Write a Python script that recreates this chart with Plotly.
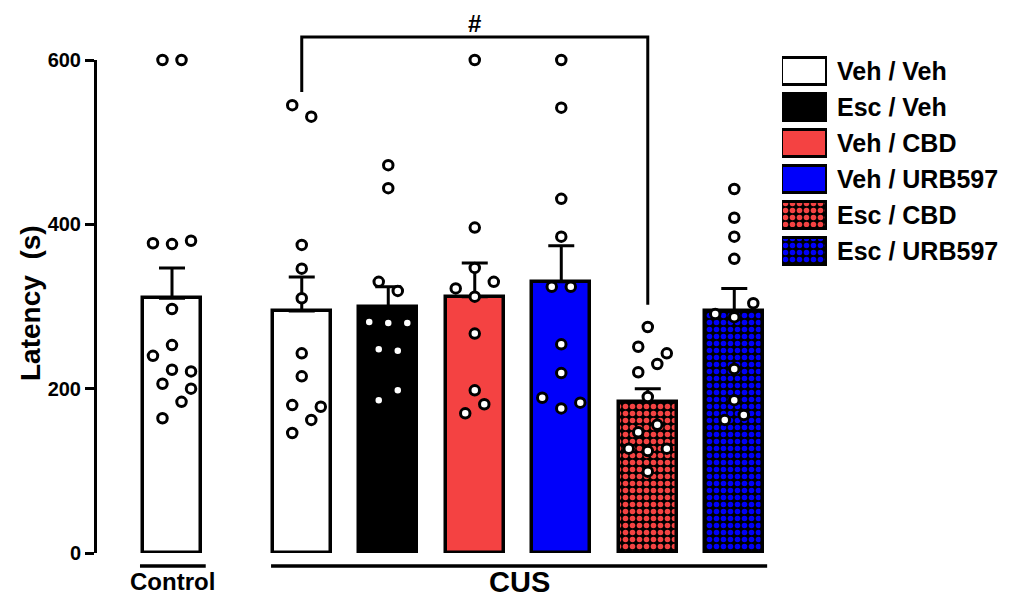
import plotly.graph_objects as go

# ---------------- data ----------------
groups = ["Control", "Veh / Veh", "Esc / Veh", "Veh / CBD", "Veh / URB597", "Esc / CBD", "Esc / URB597"]
means = [310, 294.5, 300, 312, 330, 184, 294.5]
sems = [37, 41.5, 24, 41, 44, 16, 27.5]

pts_control = [600, 600, 377, 376, 380, 297, 253, 240, 223, 221, 206, 200, 184, 164]
pts_veh_veh = [545, 531, 375, 346, 310, 243, 215, 180, 178, 162, 146]
pts_esc_veh = [472, 444, 330, 319, 281, 280, 280, 248, 246, 198, 186]
pts_veh_cbd = [600, 396, 347, 322, 330, 312, 267, 198, 181, 170]
pts_veh_urb = [600, 542, 431, 385, 324, 324, 254, 219, 189, 176, 183]
pts_esc_cbd = [275, 251, 243, 230, 220, 190, 147, 156, 127, 124, 127, 99]
pts_esc_urb = [443, 408, 385, 358, 304, 291, 287, 224, 186, 168, 162]

# horizontal jitter steps of the individual points (in units of one dot step)
jit_control = [-1, 1, -2, 0, 2, 0, 0, -2, 0, 2, -1, 2, 1, -1]
jit_veh_veh = [-1, 1, 0, 0, 0, 0, 0, -1, 2, 1, -1]
jit_esc_veh = [0, 0, -1, 1, -2, 0, 2, -1, 1, 1, -1]
jit_veh_cbd = [0, 0, 0, -2, 2, 0, 0, 0, 1, -1]
jit_veh_urb = [0, 0, 0, 0, -1, 1, 0, 0, -2, 0, 2]
jit_esc_cbd = [0, -1, 2, 1, -1, 0, -1, 1, -2, 0, 2, 0]
jit_esc_urb = [0, 0, 0, 0, 2, -2, 0, 0, 0, 1, -1]

y_ticks = [0, 200, 400, 600]

# ---------------- styling / layout ----------------
RED = "#f44242"
BLUE = "#0000fa"
fills = ["white", "white", "black", RED, BLUE, RED, BLUE]
shapes_pat = ["", "", "", "", "", ".", "."]

XPOS = [0, 1.5, 2.5, 3.5, 4.5, 5.5, 6.5]
STEP = 0.11
BAR_W = 0.67
OFF = 8  # default page body margin
W, H = 1002, 593
ML, MT = 89, 12
PW, PH = 903, 533
MR, MB = W - ML - PW, H - MT - PH
XDOM = [0, 673 / PW]
YDOM = [0, 493 / PH]
FONT = "Liberation Sans, Arial, sans-serif"
Y0_PAGE = OFF + MT + PH  # page pixel row of the value 0


def yp(v):
    return v / 600 * YDOM[1]


def xp(px):  # page pixel column -> paper
    return (px - OFF - ML) / PW


def ypp(py):  # page pixel row -> paper
    return (Y0_PAGE - py) / PH


def marker_style(i, lw):
    if shapes_pat[i]:
        return dict(color="black", line=dict(color="black", width=lw),
                    pattern=dict(shape=shapes_pat[i], fgcolor=fills[i], bgcolor="black",
                                 size=7, solidity=0.5, fillmode="replace"))
    return dict(color=fills[i], line=dict(color="black", width=lw))


fig = go.Figure()

for i, g in enumerate(groups):
    fig.add_trace(go.Bar(
        x=[XPOS[i]], y=[means[i]], width=BAR_W, name=g,
        marker=marker_style(i, 3.5),
        error_y=dict(type="data", symmetric=False, array=[sems[i]], arrayminus=[0],
                     color="black", thickness=3, width=13),
        showlegend=False, hoverinfo="skip",
    ))

all_pts = [pts_control, pts_veh_veh, pts_esc_veh, pts_veh_cbd, pts_veh_urb, pts_esc_cbd, pts_esc_urb]
all_jit = [jit_control, jit_veh_veh, jit_esc_veh, jit_veh_cbd, jit_veh_urb, jit_esc_cbd, jit_esc_urb]
px_, py_ = [], []
for g, (vals, jits) in enumerate(zip(all_pts, all_jit)):
    for v, j in zip(vals, jits):
        px_.append(XPOS[g] + j * STEP)
        py_.append(v)
fig.add_trace(go.Scatter(
    x=px_, y=py_, mode="markers", cliponaxis=False,
    marker=dict(size=9.5, color="white", line=dict(color="black", width=3)),
    showlegend=False, hoverinfo="skip",
))

# legend drawn as an inset of horizontal bars
leg_names = groups[1:]
for k, name in enumerate(leg_names):
    i = k + 1
    fig.add_trace(go.Bar(
        x=[1], y=[name], orientation="h", width=0.75,
        xaxis="x2", yaxis="y2", marker=marker_style(i, 3),
        showlegend=False, hoverinfo="skip",
    ))

annotations = []
for name in leg_names:
    annotations.append(dict(x=xp(835), y=name, xref="paper", yref="y2", text=name,
                            xanchor="left", yanchor="middle", showarrow=False,
                            font=dict(family=FONT, size=25, color="black", weight="bold")))

annotations += [
    dict(x=xp(30), y=ypp(303), xref="paper", yref="paper", text="Latency\u00a0 (s)",
         textangle=-90, showarrow=False, xanchor="center", yanchor="middle",
         font=dict(family=FONT, size=28, color="black", weight="bold")),
    dict(x=XPOS[0], y=ypp(581), xref="x", yref="paper", text="Control",
         showarrow=False, xanchor="center", yanchor="middle",
         font=dict(family=FONT, size=24, color="black", weight="bold")),
    dict(x=(XPOS[1] - 0.355 + XPOS[6] + 0.38) / 2, y=ypp(582), xref="x", yref="paper",
         text="CUS", showarrow=False, xanchor="center", yanchor="middle",
         font=dict(family=FONT, size=29, color="black", weight="bold")),
    dict(x=(XPOS[1] + XPOS[5]) / 2, y=ypp(23), xref="x", yref="paper", text="#",
         showarrow=False, xanchor="center", yanchor="middle",
         font=dict(family=FONT, size=24, color="black", weight="bold")),
]

shapes = [
    # significance bracket
    dict(type="path", xref="x", yref="paper",
         path=f"M {XPOS[1]} {yp(561)} L {XPOS[1]} {yp(628)} L {XPOS[5]} {yp(628)} L {XPOS[5]} {yp(302)}",
         line=dict(color="black", width=3)),
    # group underlines
    dict(type="line", xref="x", yref="paper", x0=XPOS[0] - 0.37, x1=XPOS[0] + 0.39,
         y0=ypp(566), y1=ypp(566), line=dict(color="black", width=3.5)),
    dict(type="line", xref="x", yref="paper", x0=XPOS[1] - 0.355, x1=XPOS[6] + 0.38,
         y0=ypp(566), y1=ypp(566), line=dict(color="black", width=3.5)),
]

fig.update_layout(
    width=W, height=H, margin=dict(l=ML, r=MR, t=MT, b=MB, autoexpand=False),
    plot_bgcolor="white", paper_bgcolor="white", bargap=0, barmode="overlay",
    xaxis=dict(domain=XDOM, range=[-0.867, 6.913], visible=False),
    yaxis=dict(domain=YDOM, range=[0, 600], tickvals=y_ticks, ticks="outside", ticklen=9,
               tickwidth=3, tickcolor="black", showline=True, linewidth=3, linecolor="black",
               showgrid=False, zeroline=False,
               tickfont=dict(family=FONT, size=20, color="black", weight="bold")),
    xaxis2=dict(domain=[xp(782), xp(827)], range=[0, 1], visible=False, anchor="y2"),
    yaxis2=dict(domain=[ypp(269), ypp(53)], autorange="reversed",
                visible=False, anchor="x2", type="category",
                categoryorder="array", categoryarray=leg_names),
    annotations=annotations, shapes=shapes,
)

fig.write_html("out.html")
